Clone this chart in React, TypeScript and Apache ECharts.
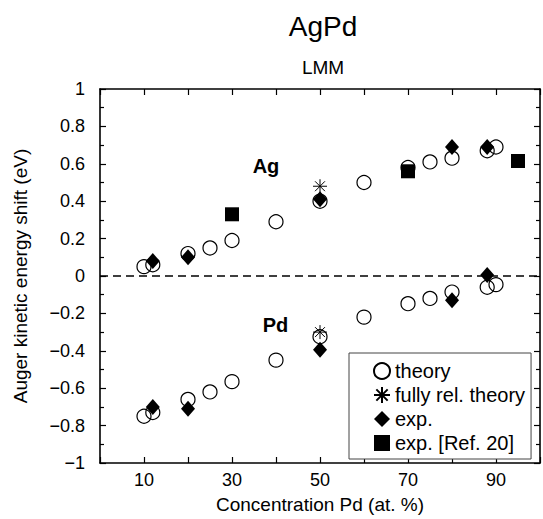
import React, { useEffect, useRef } from "react";
import * as echarts from "echarts";

// ---- data ----
const theoryX = [10, 12, 20, 25, 30, 40, 50, 60, 70, 75, 80, 88, 90];
const agTheoryY = [0.05, 0.06, 0.12, 0.15, 0.19, 0.29, 0.4, 0.5, 0.58, 0.61, 0.63, 0.67, 0.69];
const pdTheoryY = [-0.75, -0.73, -0.66, -0.62, -0.565, -0.45, -0.325, -0.22, -0.148, -0.12, -0.086, -0.06, -0.046];

const relX = [50, 50];
const relY = [0.48, -0.3];

const expX = [12, 20, 50, 80, 88];
const agExpY = [0.08, 0.1, 0.41, 0.69, 0.69];
const pdExpY = [-0.7, -0.71, -0.395, -0.13, 0.005];

const ref20X = [30, 70, 95];
const ref20Y = [0.33, 0.56, 0.615];

const xTicks = [10, 30, 50, 70, 90];
const seriesNames = ["theory", "fully rel. theory", "exp.", "exp. [Ref. 20]"];

const pairs = (xs: number[], ys: number[]) => xs.map((x, i) => [x, ys[i]]);

const FONT = "'Liberation Sans', Arial, Helvetica, sans-serif";
const ASTERISK =
  "path://M0,-1L0,1M-1,0L1,0M-0.707,-0.707L0.707,0.707M-0.707,0.707L0.707,-0.707";

export default function App() {
  const ref = useRef<HTMLDivElement>(null);

  useEffect(() => {
    if (!ref.current) return;
    const chart = echarts.init(ref.current, undefined, { renderer: "svg" });

    const fmtY = (v: number) => {
      const r = Math.round(v * 10) / 10;
      let s = r === Math.round(r) ? String(Math.round(r)) : r.toFixed(1);
      if (s === "-0") s = "0";
      return s.replace("-", "\u2212");
    };

    const axisLine = { show: true, onZero: false, lineStyle: { color: "#000", width: 1.6 } };
    const tickCommon = { show: true, inside: true, lineStyle: { color: "#000", width: 1.2 } };

    chart.setOption({
      animation: false,
      backgroundColor: "#fff",
      textStyle: { fontFamily: FONT },
      grid: { left: 100, top: 89, width: 446.6, height: 377, containLabel: false },
      xAxis: [
        {
          type: "value",
          min: 0,
          max: 100,
          interval: 10,
          position: "bottom",
          name: "Concentration Pd (at. %)",
          nameLocation: "middle",
          nameGap: 32,
          nameTextStyle: { fontSize: 19, color: "#000", fontFamily: FONT },
          axisLine,
          axisTick: { ...tickCommon, length: 6 },
          splitLine: { show: false },
          axisLabel: {
            fontSize: 18,
            color: "#000",
            margin: 8,
            fontFamily: FONT,
            formatter: (v: number) => (xTicks.includes(Math.round(v)) ? String(Math.round(v)) : ""),
          },
        },
        {
          type: "value",
          min: 0,
          max: 100,
          interval: 10,
          position: "top",
          axisLine,
          axisTick: { ...tickCommon, length: 6 },
          axisLabel: { show: false },
          splitLine: { show: false },
        },
      ],
      yAxis: [
        {
          type: "value",
          min: -1,
          max: 1,
          interval: 0.2,
          position: "left",
          name: "Auger kinetic energy shift (eV)",
          nameLocation: "middle",
          nameGap: 70,
          nameRotate: 90,
          nameTextStyle: { fontSize: 19, color: "#000", fontFamily: FONT },
          axisLine,
          axisTick: { ...tickCommon, length: 6 },
          minorTick: { show: true, splitNumber: 2, length: 4, lineStyle: { color: "#000", width: 1.2 } },
          splitLine: { show: false },
          axisLabel: { fontSize: 18, color: "#000", margin: 15, fontFamily: FONT, formatter: fmtY },
        },
        {
          type: "value",
          min: -1,
          max: 1,
          interval: 0.2,
          position: "right",
          axisLine,
          axisTick: { ...tickCommon, length: 6 },
          minorTick: { show: true, splitNumber: 2, length: 4, lineStyle: { color: "#000", width: 1.2 } },
          axisLabel: { show: false },
          splitLine: { show: false },
        },
      ],
      legend: {
        data: seriesNames,
        orient: "vertical",
        left: 349,
        top: 353,
        padding: [8, 6, 6, 24],
        itemGap: 4,
        itemWidth: 16,
        itemHeight: 16,
        borderColor: "#444",
        borderWidth: 1,
        backgroundColor: "#fff",
        textStyle: { fontSize: 20, color: "#000", fontFamily: FONT },
      },
      graphic: [
        {
          type: "text",
          x: 323,
          y: 26,
          style: { text: "AgPd", fill: "#000", font: `28px ${FONT}`, align: "center", verticalAlign: "middle" },
        },
        {
          type: "text",
          x: 323,
          y: 67,
          style: { text: "LMM", fill: "#000", font: `19px ${FONT}`, align: "center", verticalAlign: "middle" },
        },
        {
          type: "text",
          x: 266,
          y: 166,
          z: 100,
          style: { text: "Ag", fill: "#000", font: `bold 20px ${FONT}`, align: "center", verticalAlign: "middle" },
        },
        {
          type: "text",
          x: 275.5,
          y: 325,
          z: 100,
          style: { text: "Pd", fill: "#000", font: `bold 20px ${FONT}`, align: "center", verticalAlign: "middle" },
        },
      ],
      series: [
        {
          name: seriesNames[0],
          type: "scatter",
          symbol: "circle",
          symbolSize: 14,
          itemStyle: { color: "rgba(255,255,255,0)", borderColor: "#000", borderWidth: 1.2, opacity: 1 },
          data: [...pairs(theoryX, agTheoryY), ...pairs(theoryX, pdTheoryY)],
          markLine: {
            silent: true,
            symbol: "none",
            label: { show: false },
            lineStyle: { color: "#000", type: [8, 5], width: 1.5 },
            data: [{ yAxis: 0 }],
          },
        },
        {
          name: seriesNames[1],
          type: "scatter",
          symbol: ASTERISK,
          symbolSize: 14,
          itemStyle: { color: "rgba(0,0,0,0)", borderColor: "#000", borderWidth: 1, opacity: 1 },
          data: pairs(relX, relY),
        },
        {
          name: seriesNames[2],
          type: "scatter",
          symbol: "diamond",
          symbolSize: [14, 16],
          itemStyle: { color: "#000", opacity: 1 },
          data: [...pairs(expX, agExpY), ...pairs(expX, pdExpY)],
        },
        {
          name: seriesNames[3],
          type: "scatter",
          symbol: "rect",
          symbolSize: 14,
          itemStyle: { color: "#000", opacity: 1 },
          data: pairs(ref20X, ref20Y),
        },
      ],
    });

    return () => chart.dispose();
  }, []);

  return (
    <div
      ref={ref}
      style={{ position: "fixed", left: 0, top: 0, width: 543, height: 519, background: "#fff" }}
    />
  );
}
